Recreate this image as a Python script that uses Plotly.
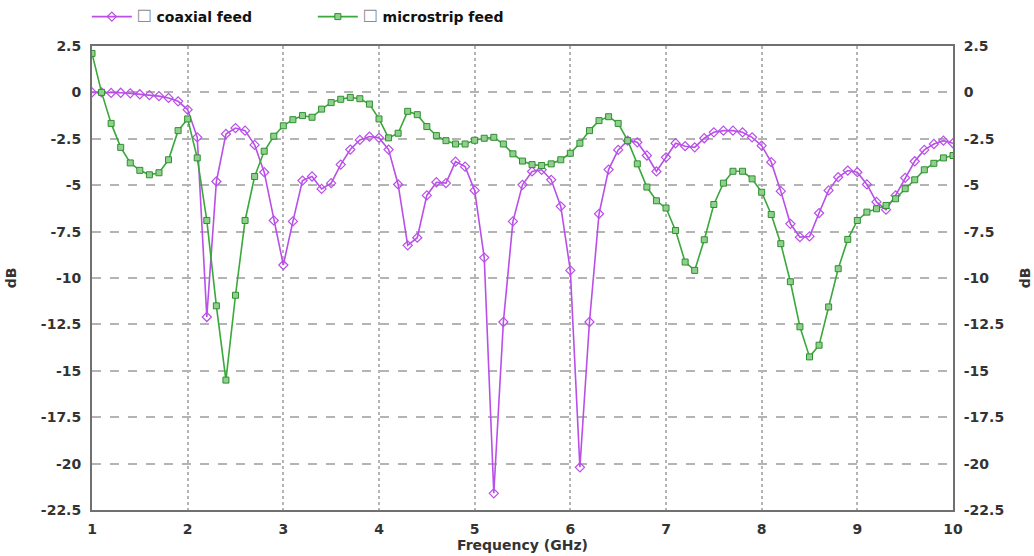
import plotly.graph_objects as go

# Frequency sampling grid (GHz), 0.1 GHz steps from 1 to 10
freq = [round(1 + 0.1 * i, 1) for i in range(91)]

coaxial_feed = [
    0.0, 0.0, -0.03, -0.02, -0.05, -0.1, -0.15, -0.2, -0.3, -0.48,          # 1.0-1.9
    -0.93, -2.42, -12.1, -4.8, -2.24, -1.92, -2.06, -2.83, -4.3, -6.9,      # 2.0-2.9
    -9.3, -6.95, -4.75, -4.53, -5.2, -4.89, -3.89, -3.08, -2.56, -2.38,     # 3.0-3.9
    -2.45, -3.08, -4.96, -8.24, -7.83, -5.55, -4.84, -4.89, -3.73, -4.0,    # 4.0-4.9
    -5.28, -8.9, -21.6, -12.37, -6.95, -4.98, -4.26, -4.17, -4.71, -6.14,   # 5.0-5.9
    -9.59, -20.2, -12.37, -6.54, -4.16, -3.1, -2.6, -2.69, -3.4, -4.26,     # 6.0-6.9
    -3.5, -2.74, -2.9, -2.96, -2.47, -2.15, -2.06, -2.06, -2.15, -2.42,     # 7.0-7.9
    -2.87, -3.76, -5.32, -7.08, -7.8, -7.76, -6.5, -5.28, -4.57, -4.21,     # 8.0-8.9
    -4.3, -4.96, -5.9, -6.32, -5.55, -4.6, -3.71, -3.1, -2.78, -2.6,        # 9.0-9.9
    -2.74,                                                                  # 10.0
]

microstrip_feed = [
    2.1, 0.0, -1.67, -2.96, -3.8, -4.2, -4.44, -4.33, -3.63, -2.06,         # 1.0-1.9
    -1.43, -3.53, -6.9, -11.5, -15.5, -10.93, -6.9, -4.53, -3.17, -2.36,    # 2.0-2.9
    -1.8, -1.47, -1.25, -1.34, -0.9, -0.55, -0.37, -0.27, -0.34, -0.63,     # 3.0-3.9
    -1.43, -2.45, -2.2, -1.02, -1.2, -1.84, -2.33, -2.6, -2.78, -2.78,      # 4.0-4.9
    -2.58, -2.47, -2.42, -2.78, -3.31, -3.7, -3.89, -3.94, -3.85, -3.63,    # 5.0-5.9
    -3.28, -2.74, -2.06, -1.52, -1.31, -1.67, -2.6, -3.85, -5.1, -5.84,     # 6.0-6.9
    -6.23, -7.44, -9.14, -9.59, -7.94, -6.04, -4.89, -4.25, -4.25, -4.66,   # 7.0-7.9
    -5.38, -6.58, -8.15, -10.2, -12.63, -14.25, -13.62, -11.56, -9.5, -7.92,  # 8.0-8.9
    -6.9, -6.45, -6.27, -6.09, -5.73, -5.19, -4.71, -4.17, -3.82, -3.53,    # 9.0-9.9
    -3.4,                                                                   # 10.0
]

x_ticks = [1, 2, 3, 4, 5, 6, 7, 8, 9, 10]
y_ticks = [2.5, 0, -2.5, -5, -7.5, -10, -12.5, -15, -17.5, -20, -22.5]
y_labels = ["2.5", "0", "-2.5", "-5", "-7.5", "-10", "-12.5", "-15", "-17.5", "-20", "-22.5"]

PURPLE = "#b94fe8"
GREEN = "#3aa83a"
FONT = "DejaVu Sans"
TXT = "#333333"
BOX = '<span style="font-size:17px;color:#8c8c8c">☐</span> '

fig = go.Figure()
fig.add_trace(go.Scatter(
    x=freq, y=coaxial_feed, mode="lines+markers",
    name=BOX + "<b>coaxial feed</b>",
    line=dict(color=PURPLE, width=1.6),
    marker=dict(symbol="diamond-open", size=7, color=PURPLE, line=dict(width=1.2)),
))
fig.add_trace(go.Scatter(
    x=freq, y=microstrip_feed, mode="lines+markers", yaxis="y2",
    name=BOX + "<b>microstrip feed</b>",
    line=dict(color=GREEN, width=1.6),
    marker=dict(symbol="square", size=6, color="#8fd08f", line=dict(color="#2f8f2f", width=1)),
))

axis_font = dict(family=FONT, size=14, color=TXT, weight="bold")
title_font = dict(family=FONT, size=14, color=TXT, weight="bold")

fig.update_layout(
    width=1034, height=556,
    margin=dict(l=92, r=81, t=46, b=46, autoexpand=False),
    paper_bgcolor="white", plot_bgcolor="white",
    font=dict(family=FONT, color=TXT),
    showlegend=True,
    legend=dict(
        orientation="h", x=-0.006, y=1.0625, xanchor="left", yanchor="middle",
        entrywidth=171, entrywidthmode="pixels",
        font=dict(family=FONT, size=14, color="#111111"),
        bgcolor="rgba(0,0,0,0)", itemwidth=40,
    ),
    xaxis=dict(
        range=[1, 10], tickvals=x_ticks, ticktext=[str(t) for t in x_ticks],
        tickfont=axis_font, showline=True, linecolor="#707070", linewidth=2, mirror=True,
        showgrid=True, gridcolor="#b4b4b4", gridwidth=1.5, griddash="dot",
        zeroline=False, ticks="", ticklabelstandoff=5,
        title=dict(text="Frequency (GHz)", font=title_font, standoff=2),
        automargin=False,
    ),
    yaxis=dict(
        range=[-22.5, 2.5], tickvals=y_ticks, ticktext=y_labels,
        tickfont=axis_font, showline=True, linecolor="#707070", linewidth=2,
        showgrid=True, gridcolor="#b4b4b4", gridwidth=1.5, griddash="dash",
        zeroline=False, ticks="", ticklabelstandoff=6,
        title=dict(text="dB", font=title_font, standoff=21),
        automargin=False,
    ),
    yaxis2=dict(
        range=[-22.5, 2.5], tickvals=y_ticks, ticktext=y_labels,
        overlaying="y", side="right", anchor="x",
        tickfont=axis_font, showline=True, linecolor="#707070", linewidth=2,
        showgrid=False, zeroline=False, ticks="", ticklabelstandoff=6,
        title=dict(text="dB", font=title_font, standoff=17),
        automargin=False,
    ),
)

fig.write_html("out.html", config={"displayModeBar": False},
               post_script="document.body.style.margin='0';")
